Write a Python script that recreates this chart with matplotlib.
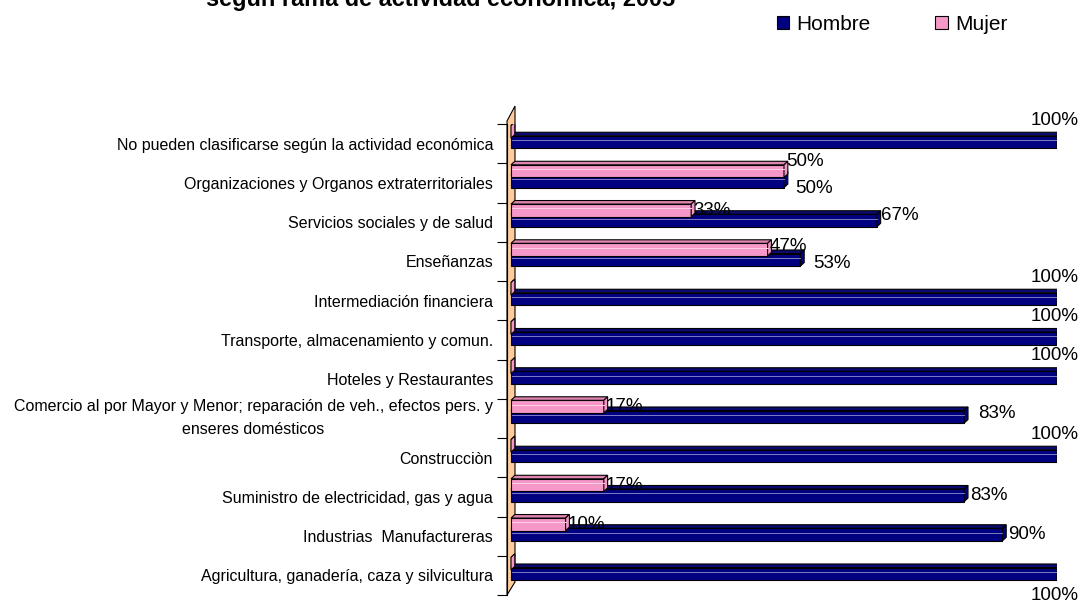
import matplotlib
matplotlib.use("Agg")
import numpy as np
import matplotlib.pyplot as plt
from matplotlib.patches import Polygon, Patch

plt.rcParams['font.family'] = ['Liberation Sans', 'DejaVu Sans']

# data (top to bottom as in the chart)
categories = [
    'No pueden clasificarse según la actividad económica',
    'Organizaciones y Organos extraterritoriales',
    'Servicios sociales y de salud',
    'Enseñanzas',
    'Intermediación financiera',
    'Transporte, almacenamiento y comun.',
    'Hoteles y Restaurantes',
    'Comercio al por Mayor y Menor; reparación de veh., efectos pers. y\nenseres domésticos',
    'Construcciòn',
    'Suministro de electricidad, gas y agua',
    'Industrias  Manufactureras',
    'Agricultura, ganadería, caza y silvicultura',
]
hombre = [1.00, 0.50, 0.67, 0.53, 1.00, 1.00, 1.00, 0.83, 1.00, 0.83, 0.90, 1.00]
mujer = [0.00, 0.50, 0.33, 0.47, 0.00, 0.00, 0.00, 0.17, 0.00, 0.17, 0.10, 0.00]

# label nudges in pixels (+ = down / right)
hombre_label_dy = [-22, 7, -5, 4, -22, -22, -22, -3, -22, 0, 0, 22]
hombre_label_dx = [-4, 7, 0, 9, -4, -4, -4, 10, -4, 2, 2, -4]
mujer_label_dy = [0, -10, 0, -3, 0, 0, 0, 0, 0, 0, 0, 0]

W, H = 1081, 603
fig = plt.figure(figsize=(W / 100, H / 100), dpi=100)
PX = 72 / 100  # points per pixel

# plot area in pixels
left_px, right_px, top_px, bottom_px = 507, 1057, 124, 595
zero_px = 511
ax = fig.add_axes([left_px / W, 1 - bottom_px / H,
                   (right_px - left_px) / W, (bottom_px - top_px) / H])

def px2ax(px, py):
    return ((px - left_px) / (right_px - left_px), (bottom_px - py) / (bottom_px - top_px))

# orange 3d wall
wall = Polygon([px2ax(507, 121), px2ax(515, 106), px2ax(515, 582), px2ax(507, 595)],
               closed=True, transform=ax.transAxes, facecolor='#FFCC99',
               edgecolor='black', lw=0.8, clip_on=False, zorder=1)
ax.add_patch(wall)

bar_h = 0.32
dx, dy = 0.007, 0.09
y = np.arange(len(categories))
y_h = y - 0.04
y_m = y - 0.30

def bar3d(yc, v, front, top, light, z):
    ax.barh(yc, v, height=bar_h, color=front, edgecolor='black', lw=0.8, zorder=z)
    t = yc - bar_h / 2
    b = yc + bar_h / 2
    ax.add_patch(Polygon([(0, t), (v, t), (v + dx, t - dy), (dx, t - dy)], closed=True,
                         facecolor=top, edgecolor='black', lw=0.8, zorder=z))
    ax.add_patch(Polygon([(v, t), (v + dx, t - dy), (v + dx, b - dy), (v, b)], closed=True,
                         facecolor=front, edgecolor='black', lw=0.8, zorder=z))
    if v > 0:
        ax.plot([0.002, v], [yc - bar_h * 0.15] * 2, color=light, lw=0.7, zorder=z)

for i in range(len(categories)):
    bar3d(y_h[i], hombre[i], '#000080', '#0A0A70', '#7C7CC8', 2 + i * 0.01)
    bar3d(y_m[i], mujer[i], '#F598C8', '#E084B0', '#FFD0E6', 2.005 + i * 0.01)

# value labels
for i in range(len(categories)):
    if hombre[i] >= 1.0:
        ax.annotate(f'{hombre[i]:.0%}', (hombre[i] + dx / 2, y_h[i]),
                    xytext=(hombre_label_dx[i] * PX, -hombre_label_dy[i] * PX),
                    textcoords='offset points', ha='center', va='center', fontsize=13.5,
                    annotation_clip=False, zorder=5)
    else:
        ax.annotate(f'{hombre[i]:.0%}', (hombre[i] + dx, y_h[i]),
                    xytext=(hombre_label_dx[i] * PX, -hombre_label_dy[i] * PX),
                    textcoords='offset points', ha='left', va='center', fontsize=13.5,
                    annotation_clip=False, zorder=5)
    if mujer[i] > 0:
        ax.annotate(f'{mujer[i]:.0%}', (mujer[i] + dx / 2, y_m[i]),
                    xytext=(0, -mujer_label_dy[i] * PX), textcoords='offset points',
                    ha='left', va='center', fontsize=13.5, annotation_clip=False, zorder=5)

ax.set_xlim(-(zero_px - left_px) / (right_px - zero_px), 1.0)
ax.set_ylim(len(categories) - 0.5, -0.5)
ax.set_yticks(y)
ax.set_yticklabels(categories, fontsize=11.5, multialignment='center', linespacing=1.65)
for lab in ax.get_yticklabels():
    if '\n' in lab.get_text():
        lab.set_va('center')
ax.set_yticks(np.arange(-0.5, len(categories), 1), minor=True)
ax.tick_params(axis='y', which='major', length=0, pad=10)
ax.tick_params(axis='y', which='minor', length=7, width=0.8, direction='out')
ax.set_xticks([])
for s in ['top', 'right', 'bottom']:
    ax.spines[s].set_visible(False)
ax.spines['left'].set_linewidth(0.8)
ax.patch.set_visible(False)

# title (cut off at the top like the reference)
fig.text(441 / W, 1 - 6 / H, 'según rama de actividad económica, 2005',
         ha='center', va='baseline', fontsize=16.9, fontweight='bold')

handles = [Patch(facecolor='#000080', edgecolor='black', lw=0.8, label='Hombre'),
           Patch(facecolor='#F598C8', edgecolor='black', lw=0.8, label='Mujer')]
fig.legend(handles=handles, loc='center', bbox_to_anchor=(892 / W, 1 - 24 / H), ncol=2,
           frameon=False, fontsize=15, handlelength=0.6, handleheight=0.6,
           handletextpad=0.35, columnspacing=3.1)

fig.savefig('out.png', dpi=100)
